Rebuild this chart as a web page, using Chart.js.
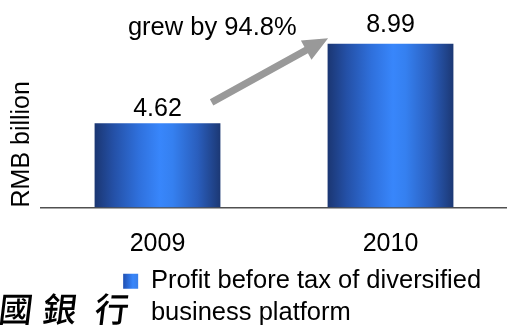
<!DOCTYPE html>
<html>
<head>
<meta charset="utf-8">
<script src="https://cdn.jsdelivr.net/npm/chart.js@4/dist/chart.umd.min.js"></script>
<style>
  html, body { margin: 0; padding: 0; background: #ffffff; }
  #wrap { width: 507px; height: 326px; }
</style>
</head>
<body>
<div id="wrap"><canvas id="chart" width="507" height="326"></canvas></div>
<script>
// Profit before tax of the diversified business platform, RMB billion
const years = ['2009', '2010'];
const profit = [4.62, 8.99];
const seriesName = ['Profit before tax of diversified', 'business platform'];
const growthNote = 'grew by 94.8%';
const yTitle = 'RMB billion';
const logoChars = ['國', '銀', '行'];

// The legend measures its item as one string: let it measure the longest line
seriesName.toString = function () { return this[0]; };

const FONT = '"Liberation Sans", Arial, Helvetica, sans-serif';
const BAR_PCT = 0.54;

// Cylinder-like horizontal shading used on every bar
function barGradient(ctx, left, right) {
  const g = ctx.createLinearGradient(left, 0, right, 0);
  g.addColorStop(0.00, '#1b3672');
  g.addColorStop(0.15, '#2450a6');
  g.addColorStop(0.35, '#2f70dc');
  g.addColorStop(0.52, '#3886fb');
  g.addColorStop(0.62, '#3580f0');
  g.addColorStop(0.82, '#2a5ebd');
  g.addColorStop(1.00, '#1c3874');
  return g;
}

function barFill(c) {
  const chart = c.chart;
  const xs = chart.scales && chart.scales.x;
  if (!xs || c.dataIndex === undefined || !chart.chartArea) return '#2f70dc';
  const center = xs.getPixelForValue(c.dataIndex);
  const w = (xs.width / years.length) * BAR_PCT;
  return barGradient(chart.ctx, center - w / 2, center + w / 2);
}

// Value labels, growth arrow, legend swatch shading and bank mark
const decorations = {
  id: 'decorations',
  afterLayout(chart) {
    // the year labels and the two-line legend item may run down to the bottom edge
    const xs = chart.scales.x;
    if (xs) xs.bottom = Math.max(xs.bottom, chart.height);
    const lg = chart.legend;
    if (lg) {
      lg.bottom = Math.max(lg.bottom, chart.height);
      lg.height = lg.bottom - lg.top;
    }
  },
  beforeDraw(chart) {
    const lg = chart.legend;
    if (lg && lg.legendItems && lg.legendItems.length && lg.legendHitBoxes && lg.legendHitBoxes.length) {
      const hb = lg.legendHitBoxes[0];
      const bw = lg.options.labels.boxWidth;
      const g = chart.ctx.createLinearGradient(hb.left, 0, hb.left + bw, 0);
      g.addColorStop(0, '#1f4fb2');
      g.addColorStop(0.65, '#3886fb');
      g.addColorStop(1, '#3a7fe8');
      lg.legendItems[0].fillStyle = g;
    }
  },
  afterDatasetsDraw(chart, args, opts) {
    const ctx = chart.ctx;
    const bars = chart.getDatasetMeta(0).data;
    ctx.save();
    ctx.fillStyle = '#000000';
    ctx.font = '25px ' + FONT;
    ctx.textAlign = 'center';
    ctx.textBaseline = 'alphabetic';
    bars.forEach((bar, i) => {
      ctx.fillText(profit[i].toFixed(2), bar.x, bar.y - opts.labelGap[i]);
    });

    // growth arrow from the first bar towards the second
    const b1 = bars[0], b2 = bars[1];
    const tail = { x: b1.x + b1.width * 0.43, y: b1.y - 21 };
    const tip = { x: b2.x - b2.width / 2 + 0.5, y: b2.y - 5.5 };
    const dx = tip.x - tail.x, dy = tip.y - tail.y;
    const len = Math.hypot(dx, dy);
    const ux = dx / len, uy = dy / len;
    const nx = -uy, ny = ux;
    const headLen = 25, headHalf = 11, shaftHalf = 3.6;
    const bx = tip.x - ux * headLen, by = tip.y - uy * headLen;
    ctx.fillStyle = '#999999';
    ctx.beginPath();
    ctx.moveTo(tail.x + nx * shaftHalf, tail.y + ny * shaftHalf);
    ctx.lineTo(bx + nx * shaftHalf, by + ny * shaftHalf);
    ctx.lineTo(bx + nx * headHalf, by + ny * headHalf);
    ctx.lineTo(tip.x, tip.y);
    ctx.lineTo(bx - nx * headHalf, by - ny * headHalf);
    ctx.lineTo(bx - nx * shaftHalf, by - ny * shaftHalf);
    ctx.lineTo(tail.x - nx * shaftHalf, tail.y - ny * shaftHalf);
    ctx.closePath();
    ctx.fill();

    ctx.fillStyle = '#000000';
    ctx.textAlign = 'right';
    ctx.font = '25.5px ' + FONT;
    ctx.fillText(growthNote, b2.x - b2.width / 2 - 31, b2.y - 8.6);
    ctx.restore();
  },
  afterDraw(chart) {
    const ctx = chart.ctx;
    ctx.save();
    ctx.fillStyle = '#000000';
    ctx.textBaseline = 'top';
    ctx.textAlign = 'left';
    ctx.font = '500 34px "Noto Sans CJK TC", sans-serif';
    const lefts = [1, 45, 97];
    logoChars.forEach((ch, i) => {
      ctx.save();
      ctx.translate(lefts[i], 292);
      ctx.transform(1, 0, -0.12, 1, 0, 0);
      ctx.fillText(ch, 0, 0);
      ctx.restore();
    });
    ctx.restore();
  }
};

new Chart(document.getElementById('chart'), {
  type: 'bar',
  data: {
    labels: years,
    datasets: [{
      label: seriesName,
      data: profit,
      backgroundColor: barFill,
      borderWidth: 0,
      barPercentage: BAR_PCT,
      categoryPercentage: 1
    }]
  },
  options: {
    responsive: false,
    animation: false,
    layout: { padding: { top: 7, left: 3, right: 0, bottom: 21.95 } },
    scales: {
      x: {
        offset: true,
        grid: { display: false, drawTicks: false },
        border: { display: true, color: '#505050', width: 1.5 },
        ticks: { color: '#000000', padding: 36, font: { family: FONT, size: 25, lineHeight: '1px' } },
        afterFit(scale) { scale.height = 35.2; }
      },
      y: {
        min: 0,
        max: 11,
        grid: { display: false, drawTicks: false },
        border: { display: false },
        ticks: { display: false },
        title: {
          display: true,
          text: yTitle,
          align: 'start',
          color: '#000000',
          padding: { top: 4, bottom: 4 },
          font: { family: FONT, size: 25, lineHeight: 1.2 }
        }
      }
    },
    plugins: {
      decorations: { labelGap: [7, 12] },
      tooltip: { enabled: false },
      legend: {
        position: 'bottom',
        align: 'end',
        labels: {
          color: '#000000',
          boxWidth: 15,
          boxHeight: 15,
          padding: 25.85,
          font: { family: FONT, size: 25.5, lineHeight: 1.26 },
          generateLabels: () => [{
            text: seriesName,
            fillStyle: '#2f70dc',
            strokeStyle: 'rgba(0,0,0,0)',
            lineWidth: 0,
            hidden: false,
            datasetIndex: 0
          }]
        }
      }
    }
  },
  plugins: [decorations]
});
</script>
</body>
</html>
